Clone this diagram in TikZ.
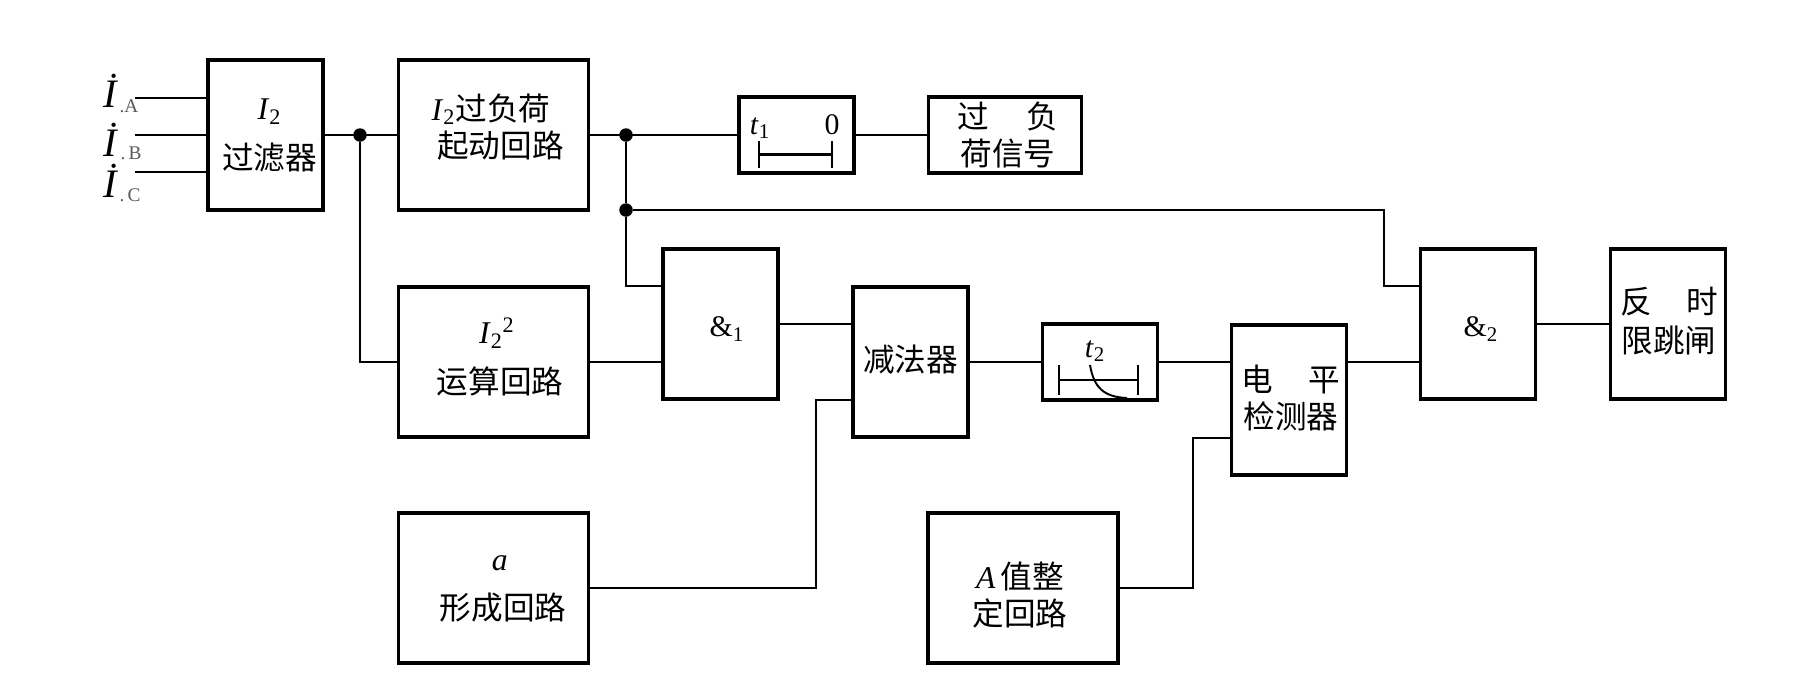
\documentclass[tikz,border=0pt]{standalone}
\usepackage{fontspec}
\setmainfont{Liberation Serif}
\newfontfamily\cjk{Noto Sans CJK SC}
\usetikzlibrary{calc}
\newcommand{\Itwo}{{\rmfamily\textit{I}\textsubscript{2}}}
\tikzset{
    % Blocks
    gatebox/.style={rectangle, draw=black, line width=1.9pt, minimum width=2.3cm, minimum height=3cm},
    widebox/.style={gatebox, minimum width=3.8cm},
    timerbox/.style={gatebox, minimum height=1.52cm},
    blocktxt/.style={inner sep=0pt, align=center, font=\cjk\fontsize{18}{#1}\selectfont},
    blocktxt/.default=22,
    % Symbols and labels
    symline/.style={line width=1.5pt},
    symlbl/.style={inner sep=0pt, font=\rmfamily\fontsize{17}{20}\selectfont},
    inlbl/.style={inner sep=0pt, anchor=base, font=\rmfamily\itshape\fontsize{23}{26}\selectfont},
    insub/.style={inner sep=0pt, text=black!65, font=\rmfamily\fontsize{11}{12}\selectfont},
    % Connectors
    wire/.style={line width=1.1pt},
    junction/.style={circle, fill=black, inner sep=0pt, minimum size=0.27cm},
}
\begin{document}
\begin{tikzpicture}[x=0.02cm, y=-0.02cm]
\useasboundingbox (0,0) rectangle (1802,687);

% Top row
\node[gatebox] (filter) at (265.5,135) {};
\node[blocktxt=28.5] (filtertxt) at (269.5,135.5) {\Itwo\\过滤器};
\node[widebox] (overload) at (493.5,135) {};
\node[blocktxt=21.5] (overloadtxt) at (500.5,127) {\Itwo{}过负荷\hspace*{0.6em}\\起动回路};
\node[timerbox] (tone) at (796.5,135) {};
\node[timerbox, minimum width=3.06cm] (signal) at (1005,135) {};
\node[blocktxt=21.5] (signaltxt) at (1008,135) {过\hspace{1.2em}负\\荷信号};

% Middle row
\node[widebox] (squarer) at (493.5,362) {};
\node[blocktxt=28] (squarertxt) at (500,357) {{\rmfamily\textit{I}\textsubscript{2}\textsuperscript{2}}\hspace*{0.2em}\\运算回路};
\node[gatebox] (andone) at (720.5,324) {};
\node[symlbl] (andonetxt) at (727,329) {\&\textsubscript{1}};
\node[gatebox] (subtract) at (910.5,362) {};
\node[blocktxt] (subtracttxt) at (910.5,360) {减法器};
\node[timerbox] (ttwo) at (1100,362) {};
\node[gatebox] (level) at (1289,400) {};
\node[blocktxt=21] (leveltxt) at (1291,398) {电\hspace{1.1em}平\\检测器};
\node[gatebox] (andtwo) at (1478,324) {};
\node[symlbl] (andtwotxt) at (1481,329) {\&\textsubscript{2}};
\node[gatebox] (trip) at (1668,324) {};
\node[blocktxt] (triptxt) at (1669,321) {反\hspace{1.1em}时\\限跳闸};

% Bottom row
\node[widebox] (aform) at (493.5,588) {};
\node[blocktxt=28] (aformtxt) at (503,589) {{\rmfamily\itshape a}\hspace*{0.2em}\\形成回路};
\node[widebox] (aset) at (1023,588) {};
\node[blocktxt=21.5] (asettxt) at (1020,595) {{\rmfamily\itshape A}\,值整\\定回路};

% Inputs
\node[inlbl] (ia) at (110,107) {\.I};
\node[inlbl] (ib) at (110,156) {\.I};
\node[inlbl] (ic) at (110,197) {\.I};
\node[insub] (ialbl) at (129,106) {.A};
\node[insub] (iblbl) at (131,153) {.\,B};
\node[insub] (iclbl) at (130,195) {.\,C};
\coordinate (ina) at (135,98);
\coordinate (inb) at (135,135);
\coordinate (inc) at (135,172);
\draw[wire] (ina) -- (ina -| filter.west);
\draw[wire] (inb) -- (inb -| filter.west);
\draw[wire] (inc) -- (inc -| filter.west);

% Junctions
\node[junction] (jfilter) at (360,135) {};
\node[junction] (jover) at (626,135) {};
\node[junction] (jmid) at (626,210) {};
\coordinate (bendtop) at (1384,210);
\coordinate (benda) at (816,588);
\coordinate (bendset) at (1193,588);

% Arrows
\draw[wire] (filter.east) -- (overload.west);
\draw[wire] (jfilter) |- (squarer.west);
\draw[wire] (overload.east) -- (tone.west);
\draw[wire] (tone.east) -- (signal.west);
\draw[wire] (jover) -- (jmid);
\draw[wire] (jmid) |- ([yshift=0.76cm]andone.west);
\draw[wire] (jmid) -- (bendtop) |- ([yshift=0.76cm]andtwo.west);
\draw[wire] (squarer.east) -- ([yshift=-0.76cm]andone.west);
\draw[wire] (andone.east) -- ([yshift=0.76cm]subtract.west);
\draw[wire] (aform.east) -- (benda) |- ([yshift=-0.76cm]subtract.west);
\draw[wire] (subtract.east) -- (ttwo.west);
\draw[wire] (ttwo.east) -- ([yshift=0.76cm]level.west);
\draw[wire] (aset.east) -- (bendset) |- ([yshift=-0.76cm]level.west);
\draw[wire] ([yshift=0.76cm]level.east) -- ([yshift=-0.76cm]andtwo.west);
\draw[wire] (andtwo.east) -- (trip.west);

% Timer symbols
\node[symlbl] (tonelbl) at (760,128) {\textit{t}\textsubscript{1}};
\node[symlbl] (tonezero) at (832,125) {0};
\draw[symline] (759,141) -- (759,168);
\draw[symline] (832,141) -- (832,168);
\draw[symline] (759,154.5) -- (832,154.5);
\node[symlbl] (ttwolbl) at (1095,351) {\textit{t}\textsubscript{2}};
\draw[symline] (1059,365) -- (1059,395);
\draw[symline] (1138,365) -- (1138,395);
\draw[symline] (1059,380) -- (1138,380);
\draw[wire] (1090,365) .. controls (1094,388) and (1104,397) .. (1127,398);
\end{tikzpicture}
\end{document}
